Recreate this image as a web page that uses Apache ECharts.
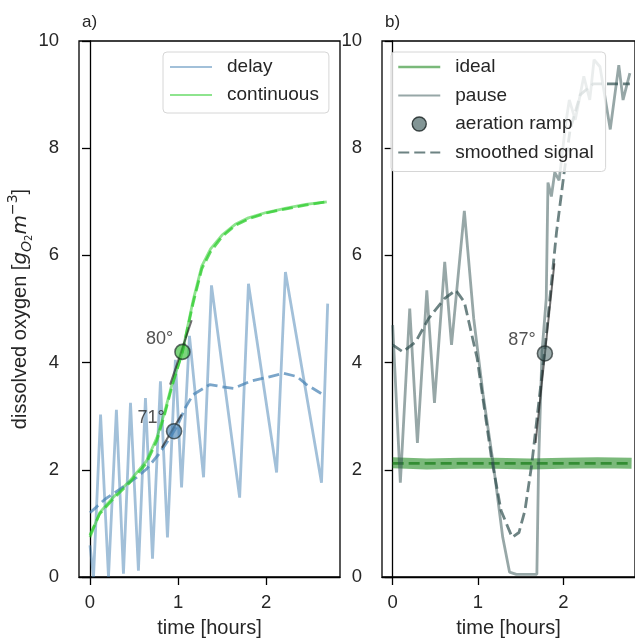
<!DOCTYPE html>
<html>
<head>
<meta charset="utf-8">
<script src="https://cdn.jsdelivr.net/npm/echarts@6/dist/echarts.min.js"></script>
<style>html,body{margin:0;padding:0;background:#fff}#c{width:635px;height:643px}</style>
</head>
<body>
<div id="c"></div>
<script>
// ---------- data ----------
const xTicks = [0, 1, 2];
const yMin = 0, yMax = 10, yStep = 2;

// panel a)
const delayT = [0, 0.04, 0.12, 0.21, 0.30, 0.38, 0.46, 0.55, 0.63, 0.71, 0.80, 0.88, 0.97, 1.04, 1.13, 1.29, 1.38, 1.70, 1.80, 2.12, 2.22, 2.63, 2.70];
const delayV = [0.59, 0.0, 3.03, 0.0, 3.12, 0.06, 3.25, 0.12, 3.34, 0.34, 3.65, 0.74, 4.05, 1.67, 4.5, 1.86, 5.44, 1.48, 5.47, 1.95, 5.69, 1.76, 5.1];
const delaySmoothT = [0, 0.17, 0.34, 0.53, 0.64, 0.78, 0.91, 1.0, 1.08, 1.17, 1.36, 1.5, 1.63, 1.82, 2.0, 2.2, 2.35, 2.46, 2.65];
const delaySmoothV = [1.2, 1.45, 1.64, 1.86, 2.01, 2.29, 2.6, 2.85, 3.15, 3.40, 3.59, 3.55, 3.52, 3.65, 3.72, 3.80, 3.74, 3.59, 3.40];
const contT = [0, 0.11, 0.26, 0.45, 0.64, 0.76, 0.85, 0.93, 1.05, 1.17, 1.27, 1.37, 1.5, 1.65, 1.8, 2.0, 2.23, 2.45, 2.69];
const contV = [0.74, 1.2, 1.48, 1.79, 2.16, 2.6, 3.09, 3.59, 4.2, 5.15, 5.8, 6.12, 6.38, 6.58, 6.7, 6.8, 6.88, 6.95, 7.0];
const contSmoothT = [0, 0.11, 0.26, 0.45, 0.64, 0.76, 0.85, 0.93, 1.05, 1.17, 1.27, 1.37, 1.5, 1.65, 1.8, 2.0, 2.23, 2.45, 2.69];
const contSmoothV = [0.78, 1.18, 1.45, 1.76, 2.12, 2.55, 3.05, 3.55, 4.2, 5.1, 5.75, 6.07, 6.35, 6.56, 6.68, 6.79, 6.87, 6.94, 7.0];
const rampA = [[0.955, 2.72, '71°'], [1.05, 4.2, '80°']];
const tangentDelay = [[0.815, 2.41], [1.04, 3.03]];
const tangentCont = [[0.91, 3.59], [1.155, 4.79]];

// panel b)
const idealT = [0, 0.4, 0.8, 1.2, 1.6, 2.0, 2.4, 2.8];
const idealV = [2.13, 2.11, 2.12, 2.12, 2.11, 2.12, 2.13, 2.12];
const idealSmoothV = [2.12, 2.12, 2.12, 2.12, 2.12, 2.12, 2.12, 2.12];
const pauseT = [0, 0.09, 0.20, 0.29, 0.40, 0.49, 0.61, 0.69, 0.84, 0.95, 1.06, 1.18, 1.29, 1.37, 1.45, 1.69, 1.71, 1.75, 1.80, 1.82, 1.86, 1.90, 1.95, 2.03, 2.07, 2.14, 2.24, 2.31, 2.36, 2.43, 2.55, 2.65, 2.70, 2.78];
const pauseV = [4.7, 1.76, 5.01, 2.5, 5.35, 3.25, 5.88, 4.33, 6.83, 4.82, 3.4, 2.1, 0.74, 0.09, 0.05, 0.05, 2.1, 4.2, 5.2, 7.36, 7.1, 7.55, 7.4, 8.48, 8.9, 8.53, 9.34, 8.9, 9.65, 9.52, 8.35, 9.55, 8.9, 9.4];
const pauseSmoothT = [0, 0.12, 0.27, 0.42, 0.61, 0.74, 0.84, 0.99, 1.16, 1.27, 1.40, 1.48, 1.55, 1.63, 1.78, 1.92, 2.01, 2.08, 2.2, 2.35, 2.78];
const pauseSmoothV = [4.33, 4.2, 4.39, 4.82, 5.2, 5.35, 5.13, 4.08, 2.2, 1.24, 0.74, 0.83, 1.24, 2.1, 4.2, 6.43, 7.55, 8.35, 9.0, 9.2, 9.2];
const rampB = [[1.784, 4.17, '87°']];
const tangentPause = [[1.675, 2.5], [1.895, 5.85]];

// ---------- chart ----------
const zip = (t, v) => t.map((x, i) => [x, v[i]]);
const FONT = 'Liberation Sans, Arial, sans-serif';
const MATH = 'DejaVu Sans, sans-serif';
const FS = 18.5;   // tick labels
const LFS = 20;    // axis labels
const black = '#000';
const txt = '#262626';

function xAxis(gi) {
  return {
    type: 'value', gridIndex: gi, min: -0.125, max: 2.84,
    axisLine: { show: true, onZero: false, lineStyle: { color: black, width: 1.3 } },
    axisTick: { show: true, customValues: xTicks, length: 8, lineStyle: { color: black, width: 1.3 } },
    axisLabel: { customValues: xTicks, color: txt, fontSize: FS, fontFamily: FONT, margin: 16 },
    splitLine: { show: false },
    name: 'time [hours]', nameLocation: 'middle', nameGap: 41,
    nameTextStyle: { color: txt, fontSize: LFS, fontFamily: FONT }
  };
}
function yAxis(gi, withName) {
  const a = {
    type: 'value', gridIndex: gi, min: yMin, max: yMax, interval: yStep,
    axisLine: { show: true, lineStyle: { color: black, width: 1.3 } },
    axisTick: { show: true, length: 8, lineStyle: { color: black, width: 1.3 } },
    axisLabel: { color: txt, fontSize: FS, fontFamily: FONT, margin: 20 },
    splitLine: { show: false }
  };
  if (withName) {
    a.name = '{n|dissolved oxygen [}{i|g}{sub|O}{sub2|2}{i|m}{sup|−3}{n|]}';
    a.nameLocation = 'middle';
    a.nameGap = 42;
    a.nameTextStyle = {
      color: txt, fontFamily: FONT, fontSize: LFS,
      rich: {
        n: { fontSize: LFS, fontFamily: FONT, color: txt, lineHeight: 28 },
        i: { fontSize: LFS, fontFamily: MATH, color: txt, fontStyle: 'italic', lineHeight: 28 },
        sub: { fontSize: 14, fontFamily: MATH, color: txt, fontStyle: 'italic', lineHeight: 17, verticalAlign: 'bottom' },
        sub2: { fontSize: 10, fontFamily: MATH, color: txt, lineHeight: 10, verticalAlign: 'bottom' },
        sup: { fontSize: 14, fontFamily: MATH, color: txt, lineHeight: 14, verticalAlign: 'top' }
      }
    };
  }
  return a;
}

function line(name, gi, data, color, width, dashed, z) {
  return {
    type: 'line', name, xAxisIndex: gi, yAxisIndex: gi, data,
    showSymbol: false, symbol: 'none', smooth: false, z: z || 2,
    lineStyle: { color, width, type: dashed ? [11, 5] : 'solid', cap: 'butt' },
    itemStyle: { color },
    emphasis: { disabled: true }, animation: false
  };
}
function ramp(name, gi, pts, fill) {
  return {
    type: 'scatter', name, xAxisIndex: gi, yAxisIndex: gi, z: 6,
    data: pts.map(p => ({ value: [p[0], p[1]], label: { formatter: p[2] } })),
    symbol: 'circle', symbolSize: 15,
    itemStyle: { color: fill, borderColor: 'rgba(30,40,40,0.85)', borderWidth: 1.6 },
    label: { show: true, position: 'left', distance: 1, offset: [0, -13], color: txt, fontSize: 18, fontFamily: FONT },
    emphasis: { disabled: true }, animation: false
  };
}

const legendBase = {
  orient: 'vertical', itemWidth: 42, itemHeight: 14, itemGap: 8,
  backgroundColor: 'rgba(255,255,255,0.8)', borderColor: '#d6d6d6', borderWidth: 1, borderRadius: 4,
  textStyle: { fontSize: 19, fontFamily: FONT, color: txt, lineHeight: 20, padding: [0, 0, 0, 10] },
  itemStyle: { opacity: 0 },
  selectedMode: false, z: 10
};

const option = {
  animation: false,
  backgroundColor: '#fff',
  title: [
    { text: 'a)', left: 77, top: 9, textStyle: { fontSize: 17, fontWeight: 'normal', fontFamily: FONT, color: txt } },
    { text: 'b)', left: 380, top: 9, textStyle: { fontSize: 17, fontWeight: 'normal', fontFamily: FONT, color: txt } }
  ],
  grid: [
    { left: 79, top: 41, width: 261, height: 539, show: true, borderColor: black, borderWidth: 1.3, backgroundColor: 'transparent' },
    { left: 382, top: 41, width: 261, height: 539, show: true, borderColor: black, borderWidth: 1.3, backgroundColor: 'transparent' }
  ],
  xAxis: [xAxis(0), xAxis(1)],
  yAxis: [yAxis(0, true), yAxis(1, false)],
  legend: [
    Object.assign({}, legendBase, {
      left: 163, top: 52, padding: [5, 10, 8, 6],
      data: ['delay', 'continuous']
    }),
    Object.assign({}, legendBase, {
      left: 391, top: 52, padding: [5, 12, 9, 6], itemGap: 8.5,
      data: [
        { name: 'ideal', lineStyle: { width: 2.5, color: 'rgba(34,139,34,0.6)' } },
        'pause',
        { name: 'aeration ramp', itemStyle: { opacity: 1, color: 'rgba(47,79,79,0.6)', borderColor: 'rgba(30,40,40,0.85)', borderWidth: 1.4 } },
        'smoothed signal'
      ]
    })
  ],
  series: [
    // panel a
    line('delay', 0, zip(delayT, delayV), 'rgba(70,130,180,0.5)', 2.8, false, 2),
    line('continuous', 0, zip(contT, contV), 'rgba(50,205,50,0.55)', 2.8, false, 3),
    line('delay smoothed', 0, zip(delaySmoothT, delaySmoothV), 'rgba(70,130,180,0.72)', 2.8, true, 4),
    line('continuous smoothed', 0, zip(contSmoothT, contSmoothV), 'rgba(50,205,50,0.75)', 2.8, true, 4),
    line('tangent delay', 0, tangentDelay, 'rgba(30,30,30,0.65)', 2, false, 5),
    line('tangent continuous', 0, tangentCont, 'rgba(30,30,30,0.65)', 2, false, 5),
    ramp('ramp a', 0, [rampA[0]], 'rgba(70,130,180,0.8)'),
    ramp('ramp a2', 0, [rampA[1]], 'rgba(50,190,50,0.8)'),
    // panel b
    line('ideal', 1, zip(idealT, idealV), 'rgba(34,139,34,0.6)', 11, false, 2),
    line('ideal smoothed', 1, zip(idealT, idealSmoothV), 'rgba(34,130,34,0.8)', 2.8, true, 3),
    line('pause', 1, zip(pauseT, pauseV), 'rgba(47,79,79,0.5)', 2.8, false, 3),
    line('smoothed signal', 1, zip(pauseSmoothT, pauseSmoothV), 'rgba(47,79,79,0.7)', 2.8, true, 4),
    line('tangent pause', 1, tangentPause, 'rgba(30,30,30,0.65)', 2, false, 5),
    ramp('aeration ramp', 1, rampB, 'rgba(47,79,79,0.6)')
  ]
};

const chart = echarts.init(document.getElementById('c'), null, { renderer: 'canvas' });
chart.setOption(option);
</script>
</body>
</html>
